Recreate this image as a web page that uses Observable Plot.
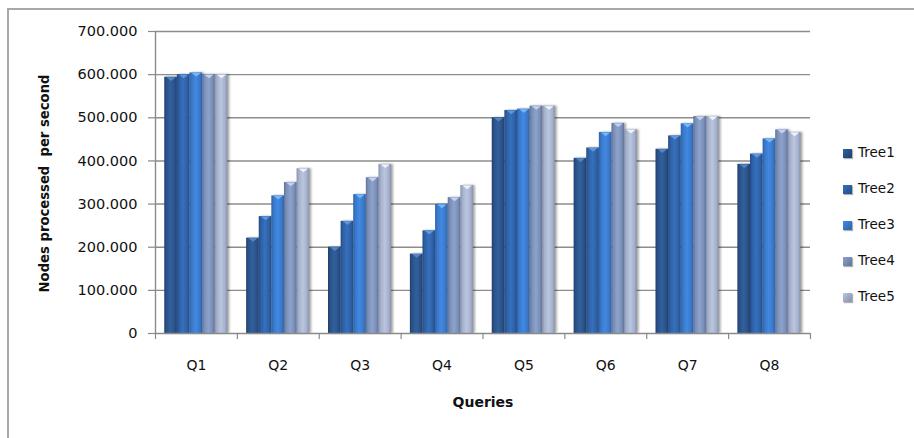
<!DOCTYPE html>
<html>
<head>
<meta charset="utf-8">
<script src="https://cdn.jsdelivr.net/npm/d3@7"></script>
<script src="https://cdn.jsdelivr.net/npm/@observablehq/plot@0.6"></script>
<style>
  body { margin: 0; background: #fff; }
  #chart { position: relative; width: 914px; height: 438px; overflow: hidden; font-family: "DejaVu Sans", sans-serif; }
  #frame { position: absolute; left: 7px; top: 8px; width: 1000px; height: 1000px; border-left: 2px solid #a8a8a8; border-top: 2px solid #a8a8a8; }
  #chart svg { position: absolute; left: 0; top: 0; }
  .legend-item { position: absolute; left: 843px; height: 16px; line-height: 16px; font-size: 13.5px; color: #111; white-space: nowrap; }
  .legend-item span.sw { display: inline-block; width: 9px; height: 9px; margin-right: 6px; vertical-align: -0.5px; box-shadow: 1px 1px 1px rgba(0,0,0,0.3); }
</style>
</head>
<body>
<div id="chart"><div id="frame"></div></div>
<script>
// Query categories and tree variants
const queries = ["Q1", "Q2", "Q3", "Q4", "Q5", "Q6", "Q7", "Q8"];
const trees = ["Tree1", "Tree2", "Tree3", "Tree4", "Tree5"];

// Nodes processed per second, one array per tree (in query order)
const tree1 = [594000, 221000, 200000, 184000, 500000, 406000, 427000, 392000];
const tree2 = [600000, 271000, 260000, 238000, 517000, 430000, 458000, 416000];
const tree3 = [604000, 319000, 322000, 299000, 520000, 466000, 486000, 451000];
const tree4 = [600000, 350000, 361000, 315000, 527000, 487000, 503000, 472000];
const tree5 = [600000, 382000, 392000, 343000, 527000, 472000, 503000, 466000];

const yTicks = [0, 100000, 200000, 300000, 400000, 500000, 600000, 700000];
const yLabel = "Nodes processed  per second";
const xLabel = "Queries";

// Bar colours: edge, body, highlight, and the lighter bevel on top
const baseColors  = ["#2a5289", "#2e60a5", "#3978ca", "#7a8fb7", "#a5b1cc"];
const edgeColors  = ["#1f3f6c", "#234c86", "#2d62a8", "#5f7299", "#8691ac"];
const lightColors = ["#32609c", "#3670bd", "#4289e0", "#8ea3cb", "#bac5de"];
const bevelColors = ["#5585c2", "#5f97dc", "#74b8f6", "#c3d2ee", "#eef2fa"];

const series = [tree1, tree2, tree3, tree4, tree5];
const rows = queries.flatMap((q, qi) =>
  series.map((s, ti) => ({query: q, qi, tree: trees[ti], ti, value: s[qi]}))
);

// Each query occupies one unit on x; five bars share the middle of it
const groupPad = 0.113;
const barW = 0.154;
const left = d => d.qi + groupPad + d.ti * barW;

const fmt = d3.formatLocale({decimal: ",", thousands: ".", grouping: [3], currency: ["", ""]}).format(",");

// Down-pointing wedge anchored at the bar's top edge
const wedge = {
  draw(context, size) {
    const w = Math.sqrt(size / Math.PI);
    context.moveTo(-w, 0);
    context.lineTo(w, 0);
    context.lineTo(0, w * 0.8);
    context.closePath();
  }
};

const grid = "#8c8c8c";
const axisColor = "#8a8a8a";

const svg = Plot.plot({
  width: 914,
  height: 438,
  marginLeft: 155,
  marginRight: 104,
  marginTop: 31,
  marginBottom: 105,
  style: {fontFamily: "DejaVu Sans, sans-serif", fontSize: "13px", color: "#111", background: "transparent", overflow: "visible"},
  x: {domain: [0, queries.length], axis: null},
  y: {domain: [0, 700000], axis: null},
  color: {type: "ordinal", domain: trees, range: trees.map((t, i) => `url(#bar-${i})`)},
  marks: [
    Plot.ruleY(yTicks.slice(1), {stroke: grid, strokeWidth: 1.4}),
    Plot.rect(rows, {x1: left, x2: d => left(d) + barW, y1: 0, y2: "value", fill: "tree"}),
    ...trees.map((t, ti) =>
      Plot.dot(rows.filter(d => d.ti === ti), {
        x: d => left(d) + barW / 2, y: "value", symbol: wedge, r: 4.6,
        fill: bevelColors[ti], stroke: "none"
      })
    ),
    // axis lines and ticks
    Plot.ruleX([0], {stroke: axisColor, strokeWidth: 1.4}),
    Plot.ruleY([0], {stroke: axisColor, strokeWidth: 1.4}),
    Plot.ruleY(yTicks, {x1: 0, x2: 0, insetLeft: -7, stroke: axisColor, strokeWidth: 1.2}),
    Plot.ruleX(d3.range(0, queries.length + 1), {y1: 0, y2: 0, insetBottom: -6, stroke: axisColor, strokeWidth: 1.2}),
    // tick labels
    Plot.text(yTicks, {y: d => d, frameAnchor: "left", dx: -18, textAnchor: "end", text: d => fmt(d), fontSize: 14.5, letterSpacing: 1.5}),
    Plot.text(queries, {x: (d, i) => i + 0.5, frameAnchor: "bottom", dy: 36, text: d => d, fontSize: 14}),
    // axis titles
    Plot.text([yLabel], {frameAnchor: "left", dx: -111, dy: 1, rotate: -90, textAnchor: "middle", text: d => d, fontWeight: "bold", fontSize: 13.2}),
    Plot.text([xLabel], {frameAnchor: "bottom", dy: 73, text: d => d, fontWeight: "bold", fontSize: 14})
  ]
});

// Horizontal shading for the bars
const defs = d3.select(svg).insert("defs", ":first-child");
trees.forEach((t, i) => {
  const g = defs.append("linearGradient").attr("id", `bar-${i}`).attr("x1", 0).attr("x2", 1).attr("y1", 0).attr("y2", 0);
  [[0, edgeColors[i]], [0.18, baseColors[i]], [0.5, lightColors[i]], [0.82, baseColors[i]], [1, edgeColors[i]]]
    .forEach(([o, c]) => g.append("stop").attr("offset", o).attr("stop-color", c));
});
d3.select(svg).selectAll('g[aria-label="rect"]').style("filter", "drop-shadow(2px 0px 1.2px rgba(0,0,0,0.35))");

const chart = document.getElementById("chart");
chart.appendChild(svg);

// Legend
trees.forEach((t, i) => {
  const item = document.createElement("div");
  item.className = "legend-item";
  item.style.top = (152 + i * 36 - 8) + "px";
  const sw = document.createElement("span");
  sw.className = "sw";
  sw.style.background = `linear-gradient(135deg, ${lightColors[i]}, ${edgeColors[i]})`;
  item.appendChild(sw);
  item.appendChild(document.createTextNode(t));
  chart.appendChild(item);
});
</script>
</body>
</html>
